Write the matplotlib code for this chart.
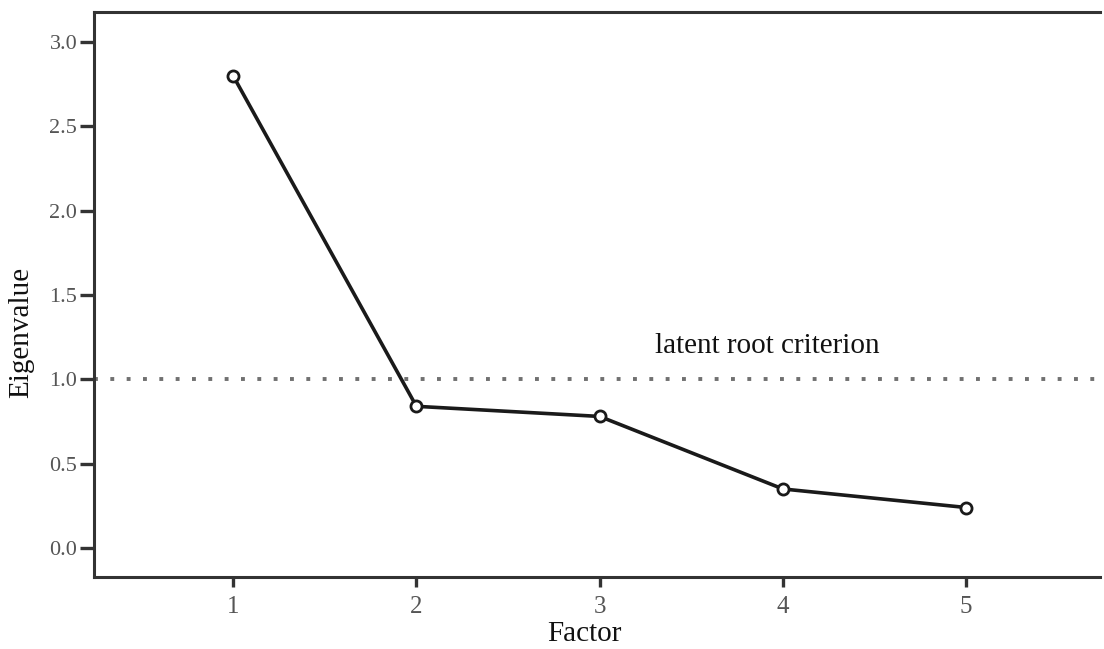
import matplotlib
matplotlib.use('Agg')
import matplotlib.pyplot as plt

# Scree plot data
factors = [1, 2, 3, 4, 5]
eigenvalues = [2.80, 0.84, 0.78, 0.35, 0.24]
criterion = 1.0
y_ticks = [0.0, 0.5, 1.0, 1.5, 2.0, 2.5, 3.0]

plt.rcParams['font.family'] = ['Liberation Serif', 'DejaVu Serif']

fig = plt.figure(figsize=(11.04, 6.49), dpi=100)
ax = fig.add_axes([94 / 1104, 1 - 577 / 649, (1100 - 94) / 1104, (577 - 12) / 649])

ax.plot(factors, eigenvalues, color='#1a1a1a', linewidth=2.6, marker='o',
        markersize=8, markerfacecolor='white', markeredgecolor='#1a1a1a',
        markeredgewidth=2)

# Kaiser criterion line
ax.axhline(criterion, color='#707070', linestyle=(0, (1, 3.2)), linewidth=2.8)
ax.text(3.3, 1.2, 'latent root criterion', fontsize=21, color='#111111',
        ha='left', va='center')

ax.set_xlim(0.241, 5.73)
ax.set_ylim(-0.172, 3.178)
ax.set_xticks(factors)
ax.set_yticks(y_ticks)
ax.set_yticklabels(['%.1f' % v for v in y_ticks])

for side in ['left', 'bottom', 'top']:
    ax.spines[side].set_linewidth(2.2)
    ax.spines[side].set_color('#333333')
ax.spines['right'].set_visible(False)

ax.tick_params(axis='y', direction='out', length=10, width=2.4, color='#333333',
               labelsize=16, labelcolor='#555555', pad=2)
ax.tick_params(axis='x', direction='out', length=7, width=2.4, color='#333333',
               labelsize=18, labelcolor='#555555', pad=7)

# axis titles placed where the original has them
fig.text(584 / 1104, 1 - 634 / 649, 'Factor', fontsize=21, color='#111111',
         ha='center', va='center')
fig.text(21 / 1104, 1 - 332 / 649, 'Eigenvalue', fontsize=21, color='#111111',
         ha='center', va='center', rotation=90)

fig.savefig('out.png', dpi=100)
